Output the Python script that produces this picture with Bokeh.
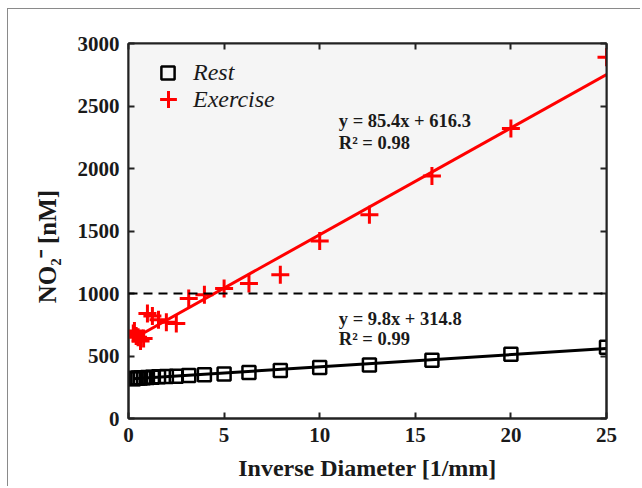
from bokeh.plotting import figure
from bokeh.models import (ColumnDataSource, LinearAxis, Range1d, BoxAnnotation, Span,
                          Legend, LegendItem, Label, FixedTicker)
from bokeh.embed import file_html
from bokeh.resources import INLINE

# ---- data ----
inv_diameter = [0.25, 0.31, 0.40, 0.50, 0.63, 0.79, 0.99, 1.25, 1.57, 1.98, 2.50,
                3.15, 3.97, 5.00, 6.30, 7.94, 10.0, 12.6, 15.87, 20.0, 25.0]
rest_no2 = [318, 320, 322, 324, 325, 327, 329, 331, 334, 336, 338,
            344, 350, 356, 368, 385, 408, 428, 466, 514, 570]
exercise_no2 = [680, 700, 660, 650, 620, 640, 840, 820, 790, 770, 760,
                960, 990, 1040, 1080, 1150, 1420, 1630, 1940, 2320, 2890]
rest_fit = (9.8, 314.8)
exercise_fit = (85.4, 616.3)
rest_text = ["y = 9.8x + 314.8", "R² = 0.99"]
exercise_text = ["y = 85.4x + 616.3", "R² = 0.98"]
threshold = 1000
x_ticks = [0, 5, 10, 15, 20, 25]
y_ticks = [0, 500, 1000, 1500, 2000, 2500, 3000]

FONT = "Liberation Serif"

p = figure(width=633, height=478, output_backend="svg", toolbar_location=None,
           x_range=Range1d(0, 25), y_range=Range1d(0, 3000),
           min_border_left=120, min_border_right=35, min_border_top=34, min_border_bottom=69,
           x_axis_location=None, y_axis_location=None)
p.styles = {"margin-left": "7px", "margin-top": "8px",
            "border-left": "1px solid #8a8a8a", "border-top": "1px solid #8a8a8a"}
p.grid.visible = False
p.outline_line_color = "#222222"
p.outline_line_width = 2
p.background_fill_color = "white"
p.border_fill_color = "white"

# shaded region above threshold
p.add_layout(BoxAnnotation(bottom=threshold, fill_color="#f5f5f5", fill_alpha=1.0,
                           line_alpha=0, level="underlay"))
p.add_layout(Span(location=threshold, dimension="width", line_color="black",
                  line_width=2, line_dash="9 6"))

# regression lines
xs_fit = [min(inv_diameter), max(inv_diameter)]
r_line = p.line(xs_fit, [rest_fit[0] * x + rest_fit[1] for x in xs_fit],
                line_color="black", line_width=3)
e_line = p.line(xs_fit, [exercise_fit[0] * x + exercise_fit[1] for x in xs_fit],
                line_color="#ff0000", line_width=3)

src = ColumnDataSource(dict(x=inv_diameter, rest=rest_no2, ex=exercise_no2))
r_pts = p.scatter("x", "rest", source=src, marker="square", size=13,
                  fill_color=None, line_color="black", line_width=2.5)
e_pts = p.scatter("x", "ex", source=src, marker="cross", size=18,
                  line_color="#ff0000", line_width=3)

# axes
def make_axis(labels=True):
    ax = LinearAxis()
    ax.axis_line_color = "#222222"
    ax.axis_line_width = 2
    ax.major_tick_in = 6
    ax.major_tick_out = 0
    ax.major_tick_line_width = 2
    ax.major_tick_line_color = "#222222"
    ax.minor_tick_line_color = None
    ax.major_label_text_font = FONT
    ax.major_label_text_font_style = "bold"
    ax.major_label_text_font_size = "21px"
    ax.major_label_text_color = "#1a1a1a"
    ax.axis_label_text_font = FONT
    ax.axis_label_text_font_style = "bold"
    ax.axis_label_text_font_size = "24px"
    ax.axis_label_text_color = "#1a1a1a"
    if not labels:
        ax.major_label_text_font_size = "0px"
        ax.major_label_text_alpha = 0
    return ax

xb = make_axis()
xb.ticker = FixedTicker(ticks=x_ticks)
xb.axis_label = "Inverse Diameter [1/mm]"
xb.major_label_standoff = 9
xb.axis_label_standoff = 10
p.add_layout(xb, "below")

yl = make_axis()
yl.ticker = FixedTicker(ticks=y_ticks)
yl.axis_label = "NO₂⁻ [nM]" + "\u00a0" * 5
yl.axis_label_text_font_size = "25px"
yl.major_label_standoff = 9
yl.axis_label_standoff = 14
p.add_layout(yl, "left")

xt = make_axis(False)
xt.ticker = FixedTicker(ticks=x_ticks)
p.add_layout(xt, "above")
yr = make_axis(False)
yr.ticker = FixedTicker(ticks=y_ticks)
p.add_layout(yr, "right")

# legend: one box per entry so that marker size and row spacing can both match
def style_legend(lg, gsize, standoff):
    lg.label_text_font = FONT
    lg.label_text_font_style = "italic"
    lg.label_text_font_size = "24px"
    lg.label_text_color = "#1a1a1a"
    lg.background_fill_alpha = 0
    lg.border_line_alpha = 0
    lg.glyph_width = gsize
    lg.glyph_height = gsize
    lg.label_height = gsize
    lg.margin = 0
    lg.padding = 0
    lg.spacing = 0
    lg.label_standoff = standoff

leg_rest = Legend(items=[LegendItem(label="Rest", renderers=[r_pts])], location=(23, 329))
style_legend(leg_rest, 33, 9)
leg_ex = Legend(items=[LegendItem(label="Exercise", renderers=[e_pts])], location=(19, 298))
style_legend(leg_ex, 42, 4)
p.add_layout(leg_rest)
p.add_layout(leg_ex)

# fit annotations
for txt, yy in zip(exercise_text, [2384, 2208]):
    p.add_layout(Label(x=11.0, y=yy, text=txt, text_font=FONT, text_font_style="bold",
                       text_font_size="18.5px", text_color="#1a1a1a", text_baseline="middle"))
for txt, yy in zip(rest_text, [800, 640]):
    p.add_layout(Label(x=11.0, y=yy, text=txt, text_font=FONT, text_font_style="bold",
                       text_font_size="18.5px", text_color="#1a1a1a", text_baseline="middle"))

open("out.html", "w").write(file_html(p, INLINE))
